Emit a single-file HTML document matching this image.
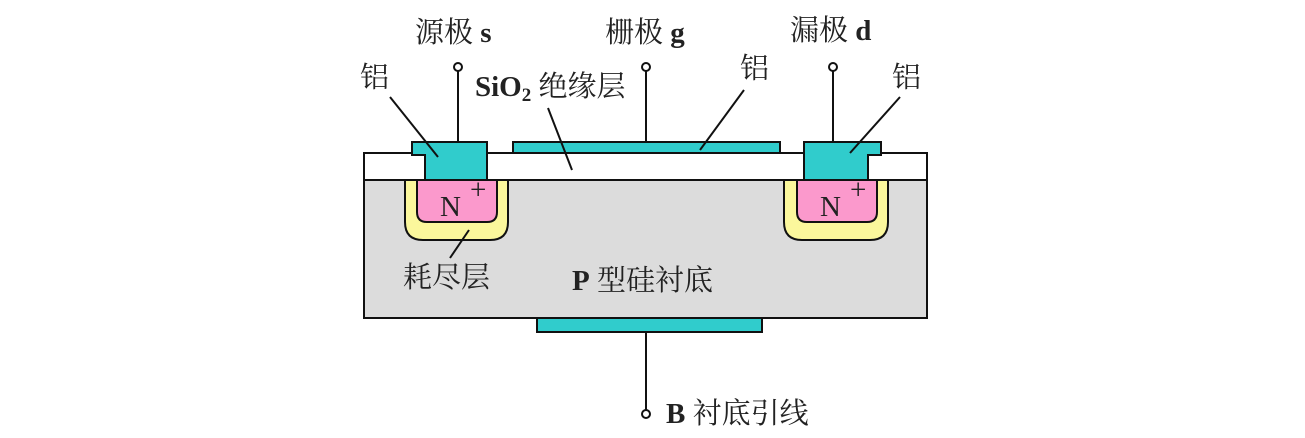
<!DOCTYPE html>
<html><head><meta charset="utf-8"><style>
html,body{margin:0;padding:0;background:#fff;width:1305px;height:438px;overflow:hidden}
text{font-family:"Liberation Serif","Noto Serif CJK SC","Noto Sans CJK SC",serif;font-size:29px;fill:#222}
</style></head><body>
<svg width="1305" height="438" xmlns="http://www.w3.org/2000/svg">
<g stroke="#111" stroke-width="2">
<rect x="364" y="180" width="563" height="138" fill="#dcdcdc"/>
<rect x="364" y="153" width="563" height="27" fill="#fff"/>
<rect x="537" y="318" width="225" height="14" fill="#30cccc"/>
<path d="M405,180 L508,180 L508,222 Q508,240 490,240 L423,240 Q405,240 405,222 Z" fill="#fbf79c"/>
<path d="M417,180 L497,180 L497,212 Q497,222 487,222 L427,222 Q417,222 417,212 Z" fill="#fb99cc"/>
<path d="M784,180 L888,180 L888,222 Q888,240 870,240 L802,240 Q784,240 784,222 Z" fill="#fbf79c"/>
<path d="M797,180 L877,180 L877,212 Q877,222 867,222 L807,222 Q797,222 797,212 Z" fill="#fb99cc"/>
<path d="M412,142 L487,142 L487,180 L425,180 L425,155 L412,155 Z" fill="#30cccc"/>
<path d="M804,142 L881,142 L881,155 L868,155 L868,180 L804,180 Z" fill="#30cccc"/>
<rect x="513" y="142" width="267" height="11" fill="#30cccc"/>
<line x1="458" y1="71" x2="458" y2="142"/>
<line x1="646" y1="71" x2="646" y2="142"/>
<line x1="833" y1="71" x2="833" y2="142"/>
<line x1="646" y1="332" x2="646" y2="410"/>
<circle cx="458" cy="67" r="4" fill="#fff"/>
<circle cx="646" cy="67" r="4" fill="#fff"/>
<circle cx="833" cy="67" r="4" fill="#fff"/>
<circle cx="646" cy="414" r="4" fill="#fff"/>
<line x1="390" y1="97" x2="438" y2="157"/>
<line x1="548" y1="108" x2="572" y2="170"/>
<line x1="744" y1="90" x2="700" y2="150"/>
<line x1="900" y1="97" x2="850" y2="153"/>
<line x1="469" y1="230" x2="450" y2="258"/>
</g>
<text x="415" y="42">源极 <tspan font-weight="bold">s</tspan></text>
<text x="605" y="42">栅极 <tspan font-weight="bold">g</tspan></text>
<text x="790" y="40">漏极 <tspan font-weight="bold">d</tspan></text>
<text x="360" y="87">铝</text>
<text x="740" y="78">铝</text>
<text x="892" y="87">铝</text>
<text x="475" y="96"><tspan font-weight="bold">SiO</tspan><tspan font-weight="bold" font-size="19" dy="5">2</tspan><tspan dy="-5"> 绝缘层</tspan></text>
<text x="440" y="216" font-size="32">N</text><text x="470" y="199" font-size="22">+</text>
<text x="820" y="216" font-size="32">N</text><text x="850" y="199" font-size="22">+</text>
<text x="403" y="287">耗尽层</text>
<text x="572" y="290"><tspan font-weight="bold">P</tspan> 型硅衬底</text>
<text x="666" y="423"><tspan font-weight="bold">B</tspan> 衬底引线</text>
</svg>
</body></html>
